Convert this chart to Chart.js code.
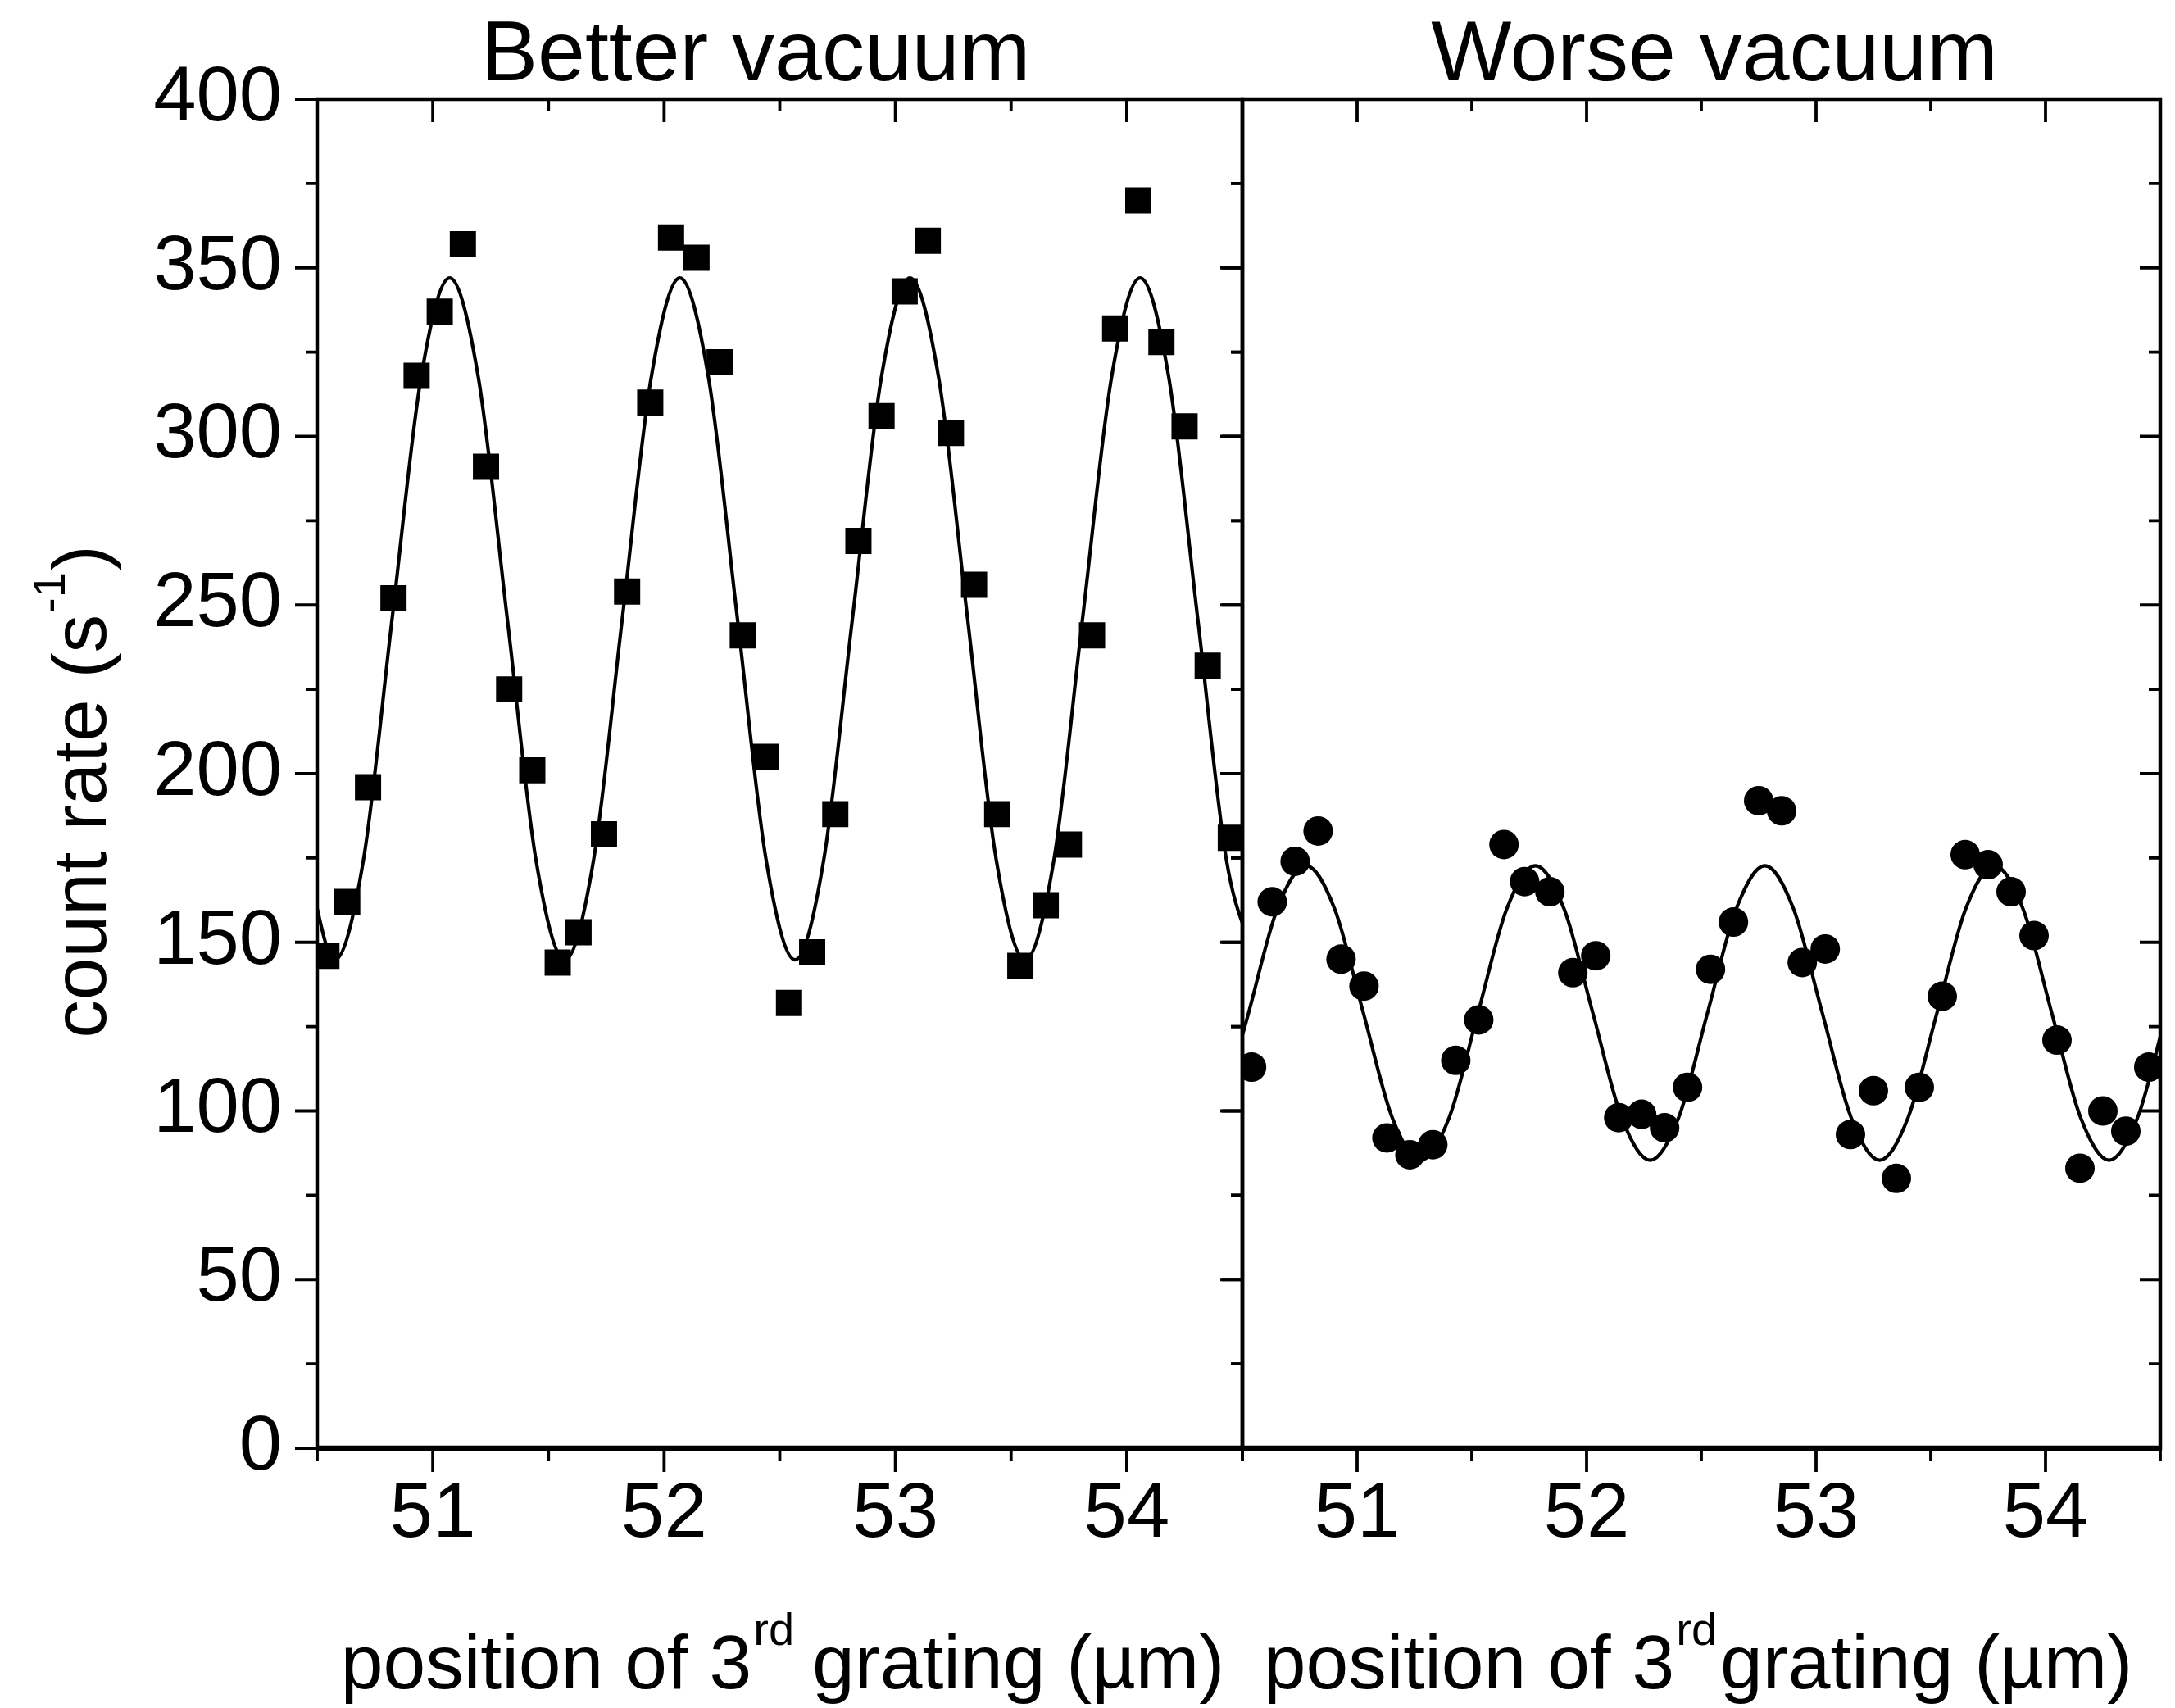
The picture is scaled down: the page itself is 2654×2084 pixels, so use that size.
<!DOCTYPE html>
<html lang="en">
<head>
<meta charset="utf-8">
<title>Count rate vs position of 3rd grating</title>
<script src="https://cdn.jsdelivr.net/npm/chart.js"></script>
<style>
  html, body { margin: 0; padding: 0; background: #fff; }
  #wrap { position: relative; width: 2654px; height: 2084px; overflow: hidden; background: #fff; }
  canvas { position: absolute; top: 0; }
  #left { left: 0; }
  #right { left: 1440px; }
</style>
</head>
<body>
<div id="wrap">
  <canvas id="left" width="1560" height="2084"></canvas>
  <canvas id="right" width="1214" height="2084"></canvas>
</div>
<script>
// better vacuum, measured (squares)
const betterX = [50.54, 50.63, 50.72, 50.83, 50.93, 51.03, 51.13, 51.23, 51.33, 51.43,
                 51.54, 51.63, 51.74, 51.84, 51.94, 52.03, 52.14, 52.24, 52.34, 52.44,
                 52.54, 52.64, 52.74, 52.84, 52.94, 53.04, 53.14, 53.24, 53.34, 53.44,
                 53.54, 53.65, 53.75, 53.85, 53.95, 54.05, 54.15, 54.25, 54.35, 54.45];
const betterY = [146, 162, 196, 252, 318, 337, 357, 291, 225, 201,
                 144, 153, 182, 254, 310, 359, 353, 322, 241, 205,
                 132, 147, 188, 269, 306, 343, 358, 301, 256, 188,
                 143, 161, 179, 241, 332, 370, 328, 303, 232, 181];

// worse vacuum, measured (circles)
const worseX = [50.54, 50.63, 50.73, 50.83, 50.93, 51.03, 51.13, 51.23, 51.33, 51.43,
                51.53, 51.64, 51.73, 51.84, 51.94, 52.04, 52.14, 52.24, 52.34, 52.44,
                52.54, 52.64, 52.75, 52.85, 52.94, 53.04, 53.15, 53.25, 53.35, 53.45,
                53.55, 53.65, 53.75, 53.85, 53.95, 54.05, 54.15, 54.25, 54.35, 54.45];
const worseY = [113, 162, 174, 183, 145, 137, 92, 87, 90, 115,
                127, 179, 168, 165, 141, 146, 98, 99, 95, 107,
                142, 156, 192, 189, 144, 148, 93, 106, 80, 107,
                134, 176, 173, 165, 152, 121, 83, 100, 94, 113];

// fit curves, points
const betterFitX = [50.451, 50.576, 50.700, 50.824, 50.949, 51.073, 51.197, 51.322, 51.446, 51.571,
                    51.695, 51.819, 51.944, 52.068, 52.192, 52.317, 52.441, 52.566, 52.690, 52.814,
                    52.939, 53.063, 53.187, 53.312, 53.436, 53.561, 53.685, 53.809, 53.934, 54.058,
                    54.182, 54.307, 54.431, 54.556];
const betterFitY = [174.4, 144.8, 174.4, 245.9, 317.4, 347.0, 317.4, 245.9, 174.4, 144.8,
                    174.4, 245.9, 317.4, 347.0, 317.4, 245.9, 174.4, 144.8, 174.4, 245.9,
                    317.4, 347.0, 317.4, 245.9, 174.4, 144.8, 174.4, 245.9, 317.4, 347.0,
                    317.4, 245.9, 174.4, 144.8];
const worseFitX = [50.402, 50.527, 50.652, 50.777, 50.902, 51.027, 51.152, 51.277, 51.402, 51.527,
                   51.652, 51.777, 51.902, 52.027, 52.152, 52.277, 52.402, 52.527, 52.652, 52.777,
                   52.902, 53.027, 53.152, 53.277, 53.402, 53.527, 53.652, 53.777, 53.902, 54.027,
                   54.152, 54.277, 54.402, 54.527];
const worseFitY = [98.2, 129.1, 159.9, 172.7, 159.9, 129.1, 98.2, 85.4, 98.2, 129.1,
                   159.9, 172.7, 159.9, 129.1, 98.2, 85.4, 98.2, 129.1, 159.9, 172.7,
                   159.9, 129.1, 98.2, 85.4, 98.2, 129.1, 159.9, 172.7, 159.9, 129.1,
                   98.2, 85.4, 98.2, 129.1];

// ticks
const xMajor = [51, 52, 53, 54];
const xMinor = [50.5, 51.5, 52.5, 53.5, 54.5];
const yMajor = [0, 50, 100, 150, 200, 250, 300, 350, 400];
const yMinor = [25, 75, 125, 175, 225, 275, 325, 375];

const FONT = '"Liberation Sans", Arial, Helvetica, sans-serif';
Chart.defaults.font.family = FONT;
Chart.defaults.color = '#000';

const toPoints = (xs, ys) => xs.map((x, i) => ({x: x, y: ys[i]}));

// box around the panel plus tick marks (minor ticks are not built into Chart.js)
const frameTicks = {
  id: 'frameTicks',
  afterDraw(chart) {
    const {ctx, chartArea: {left, right, top, bottom}, scales: {x, y}} = chart;
    ctx.save();
    ctx.strokeStyle = '#000';
    ctx.lineWidth = 3.8;
    ctx.beginPath();
    const seg = (x1, y1, x2, y2) => { ctx.moveTo(x1, y1); ctx.lineTo(x2, y2); };
    xMajor.forEach(v => {
      const px = x.getPixelForValue(v);
      seg(px, bottom, px, bottom + 29);
      seg(px, top, px, top + 28);
    });
    xMinor.forEach(v => {
      const px = x.getPixelForValue(v);
      seg(px, bottom, px, bottom + 16);
      seg(px, top, px, top + 15);
    });
    yMajor.forEach(v => {
      const py = y.getPixelForValue(v);
      seg(left, py, left - 27, py);
      seg(right, py, right - 25, py);
    });
    yMinor.forEach(v => {
      const py = y.getPixelForValue(v);
      seg(left, py, left - 14, py);
      seg(right, py, right - 14, py);
    });
    ctx.stroke();

    ctx.lineWidth = 4.5;
    ctx.strokeRect(left, top, right - left, bottom - top);
    ctx.lineWidth = 6.5;
    ctx.beginPath();
    ctx.moveTo(left - 2, bottom);
    ctx.lineTo(right + 2, bottom);
    ctx.stroke();
    ctx.restore();
  }
};

// text with a superscript part
function drawParts(ctx, parts, cx, base, size, supSize, raise, gapAfterSup) {
  let total = 0;
  parts.forEach(p => {
    ctx.font = (p.sup ? supSize : size) + 'px ' + FONT;
    p.w = ctx.measureText(p.t).width + (p.sup ? gapAfterSup : 0);
    total += p.w;
  });
  let xx = cx - total / 2;
  ctx.textAlign = 'left';
  ctx.textBaseline = 'alphabetic';
  parts.forEach(p => {
    ctx.font = (p.sup ? supSize : size) + 'px ' + FONT;
    ctx.fillText(p.t, xx + (p.sup ? 2 : 0), p.sup ? base - raise : base);
    xx += p.w;
  });
}

function labels(opts) {
  return {
    id: 'labels',
    afterDraw(chart) {
      const ctx = chart.ctx;
      ctx.save();
      ctx.fillStyle = '#000';
      ctx.font = '104px ' + FONT;
      ctx.textAlign = 'center';
      ctx.textBaseline = 'alphabetic';
      ctx.fillText(opts.title, opts.titleX, 98);
      drawParts(ctx, opts.xTitle, opts.xTitleX, 2060, 93, 56, 53, opts.supGap);
      if (opts.yTitle) {
        ctx.translate(129, 966);
        ctx.rotate(-Math.PI / 2);
        drawParts(ctx, [{t: 'count rate (s'}, {t: '-1', sup: true}, {t: ')'}], 0, 0, 93, 56, 50, 4);
      }
      ctx.restore();
    }
  };
}

function scalesFor(yWidth, showY) {
  return {
    x: {
      type: 'linear', min: 50.5, max: 54.5,
      afterBuildTicks: s => { s.ticks = xMajor.map(v => ({value: v})); },
      afterFit: s => { s.height = 317; },
      grid: {display: false, drawTicks: false},
      border: {display: false},
      ticks: {padding: 26, maxRotation: 0, autoSkip: false, color: '#000', font: {size: 94}}
    },
    y: {
      type: 'linear', min: 0, max: 400,
      afterBuildTicks: s => { s.ticks = yMajor.map(v => ({value: v})); },
      afterFit: s => { s.width = yWidth; },
      grid: {display: false, drawTicks: false},
      border: {display: false},
      ticks: {display: showY, padding: 43, color: '#000', font: {size: 94}}
    }
  };
}

function panel(id, pts, fit, pointStyle, radius, scales, padding, textOpts) {
  return new Chart(document.getElementById(id), {
    type: 'scatter',
    data: {
      datasets: [
        {
          label: 'data',
          data: pts,
          pointStyle: pointStyle,
          pointRadius: radius,
          pointHoverRadius: radius,
          pointBackgroundColor: '#000',
          pointBorderWidth: 0,
          showLine: false
        },
        {
          label: 'fit',
          data: fit,
          showLine: true,
          borderColor: '#000',
          borderWidth: 4.2,
          pointRadius: 0,
          cubicInterpolationMode: 'monotone',
          clip: 0
        }
      ]
    },
    options: {
      responsive: false,
      animation: false,
      layout: {padding: padding},
      plugins: {legend: {display: false}, tooltip: {enabled: false}},
      scales: scales
    },
    plugins: [frameTicks, labels(textOpts)]
  });
}

panel('left',
  toPoints(betterX, betterY), toPoints(betterFitX, betterFitY),
  'rect', 22.6, scalesFor(387, true),
  {top: 121, right: 44, left: 0, bottom: 0},
  {
    title: 'Better vacuum', titleX: 922, xTitleX: 955, supGap: 24, yTitle: true,
    xTitle: [{t: 'position of 3'}, {t: 'rd', sup: true}, {t: 'grating (µm)'}]
  });

panel('right',
  toPoints(worseX, worseY), toPoints(worseFitX, worseFitY),
  'circle', 18, scalesFor(76, false),
  {top: 121, right: 6, left: 0, bottom: 0},
  {
    title: 'Worse vacuum', titleX: 2092 - 1440, xTitleX: 2072 - 1440, supGap: 6, yTitle: false,
    xTitle: [{t: 'position of 3'}, {t: 'rd', sup: true}, {t: 'grating (µm)'}]
  });
</script>
</body>
</html>
